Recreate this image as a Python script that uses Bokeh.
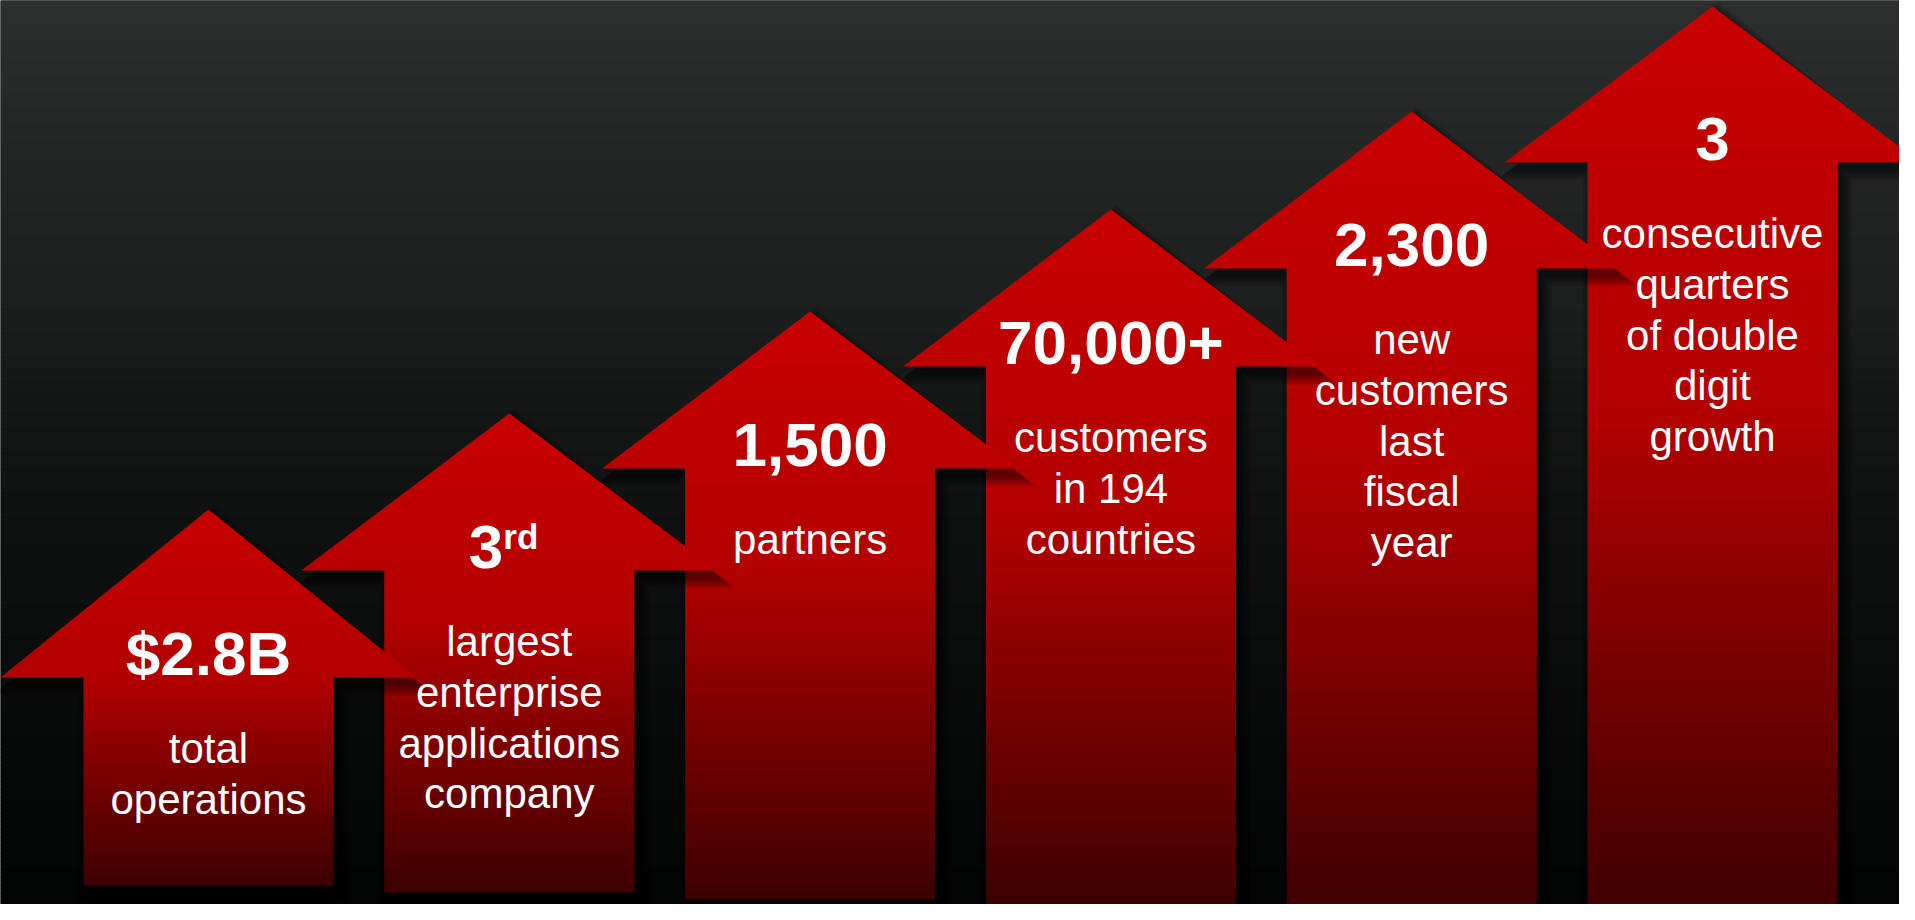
import numpy as np
from bokeh.plotting import figure
from bokeh.models import Range1d, ColumnDataSource
from bokeh.core.properties import value
from bokeh.embed import file_html
from bokeh.resources import INLINE

# ---------------- data ----------------
numbers = ["$2.8B", "3", "1,500", "70,000+", "2,300", "3"]
suffixes = ["", "rd", "", "", "", ""]
descriptions = [
    ["total", "operations"],
    ["largest", "enterprise", "applications", "company"],
    ["partners"],
    ["customers", "in 194", "countries"],
    ["new", "customers", "last", "fiscal", "year"],
    ["consecutive", "quarters", "of double", "digit", "growth"],
]
# arrow levels (px from top): tip, neck (head base), foot
arrow_tip = [509, 413, 311, 209, 111, 6]
arrow_neck = [677, 570, 468, 366, 268, 162]
arrow_foot = [885, 892, 899, 906, 914, 921]

# ---------------- layout ----------------
W, H = 1915, 920
X0 = 208.0
STEP = 300.8
HW, SW = 208.0, 125.0
centers = [X0 + i * STEP for i in range(len(numbers))]

PW, PH = 1899, 904
p = figure(width=PW, height=PH, x_range=Range1d(0, PW), y_range=Range1d(PH, 0),
           min_border=0, toolbar_location=None, output_backend="svg",
           x_axis_location=None, y_axis_location=None)
p.grid.visible = False
p.outline_line_color = None
p.background_fill_color = "#000000"
p.border_fill_color = "#000000"

# background vertical gradient
bg_stops_y = [0, 200, 300, 400, 500, 650, 750, 850, 920]
bg_stops_v = [46, 34, 30, 22, 17, 12, 8, 5, 3]
ys = np.arange(0, H + 4, 4)
bt, bb, bc = [], [], []
for y in ys:
    g = float(np.interp(y + 2, bg_stops_y, bg_stops_v))
    gi = int(round(g))
    bc.append("#%02x%02x%02x" % (max(gi - 1, 0), gi, gi))
    bt.append(y - 0.6)
    bb.append(y + 4)
p.quad(left=0, right=W, top=bt, bottom=bb, fill_color=bc, line_color=None)


def arrow_color(t):
    if t < 0.45:
        v = 200 - (t / 0.45) * 22
    else:
        v = 178 - (t - 0.45) / 0.55 * 118
    return "#%02x0000" % int(round(max(0, min(255, v))))


def outline(cx, tip, neck, foot, r=0.0, dx=0.0, dy=0.0):
    k = r * 1.3
    xs = [cx, cx + HW + k, cx + SW + r, cx + SW + r, cx - SW - r, cx - SW - r, cx - HW - k]
    yy = [tip - k, neck + r, neck + r, foot + r, foot + r, neck + r, neck + r]
    return [x + dx for x in xs], [y + dy for y in yy]


for i in reversed(range(len(numbers))):
    cx, tip, neck, foot = centers[i], arrow_tip[i], arrow_neck[i], arrow_foot[i]
    # soft drop shadow (down-right)
    sx, sy = [], []
    for r in [10, 8, 6, 4, 2, 0]:
        a, b = outline(cx, tip, neck, foot, r=r, dx=5, dy=8)
        sx.append(a)
        sy.append(b)
    p.patches(xs=sx, ys=sy, fill_color="black", fill_alpha=0.10, line_color=None)

    L = foot - tip
    # head strips (trapezoids)
    hx, hy, hc = [], [], []
    edges = np.linspace(tip, neck, 45)
    for y0, y1 in zip(edges[:-1], edges[1:]):
        y1e = min(y1 + 0.8, neck)
        w0 = HW * (y0 - tip) / (neck - tip)
        w1 = HW * (y1e - tip) / (neck - tip)
        hx.append([cx - w0, cx + w0, cx + w1, cx - w1])
        hy.append([y0, y0, y1e, y1e])
        hc.append(arrow_color(((y0 + y1) / 2 - tip) / L))
    p.patches(xs=hx, ys=hy, fill_color=hc, line_color=None)
    # shaft strips
    se = np.arange(neck, foot + 0.01, 3.0)
    if se[-1] < foot:
        se = np.append(se, foot)
    qt, qb, qc = [], [], []
    for y0, y1 in zip(se[:-1], se[1:]):
        qt.append(y0 - 0.8)
        qb.append(y1)
        qc.append(arrow_color(((y0 + y1) / 2 - tip) / L))
    p.quad(left=cx - SW, right=cx + SW, top=qt, bottom=qb, fill_color=qc, line_color=None)

# ---------------- texts ----------------
FONT = value("Liberation Sans")
num_x, num_y, num_t, num_align = [], [], [], []
suf_x, suf_y, suf_t = [], [], []
d_x, d_y, d_t = [], [], []
for i, cx in enumerate(centers):
    by = arrow_neck[i] - 1
    if suffixes[i]:
        num_x.append(cx - 6)
        num_align.append("right")
        suf_x.append(cx - 6)
        suf_y.append(by - 20 - 13)
        suf_t.append(suffixes[i])
    else:
        num_x.append(cx)
        num_align.append("center")
    num_y.append(by - 23)
    num_t.append(numbers[i])
    for j, line in enumerate(descriptions[i]):
        d_x.append(cx)
        d_y.append(by + 87 - 15 + j * 50.8)
        d_t.append(line)

p.text(x="x", y="y", text="t", text_align="a",
       source=ColumnDataSource(dict(x=num_x, y=num_y, t=num_t, a=num_align)),
       text_font=FONT, text_font_style="bold", text_font_size="62px",
       text_color="white", text_baseline="alphabetic")
p.text(x=suf_x, y=suf_y, text=suf_t, text_align="left",
       text_font=FONT, text_font_style="bold", text_font_size="35px",
       text_color="white", text_baseline="alphabetic")
p.text(x=d_x, y=d_y, text=d_t, text_align="center",
       text_font=FONT, text_font_size="42px",
       text_color="white", text_baseline="alphabetic")

open("out.html", "w").write(file_html(p, INLINE))
